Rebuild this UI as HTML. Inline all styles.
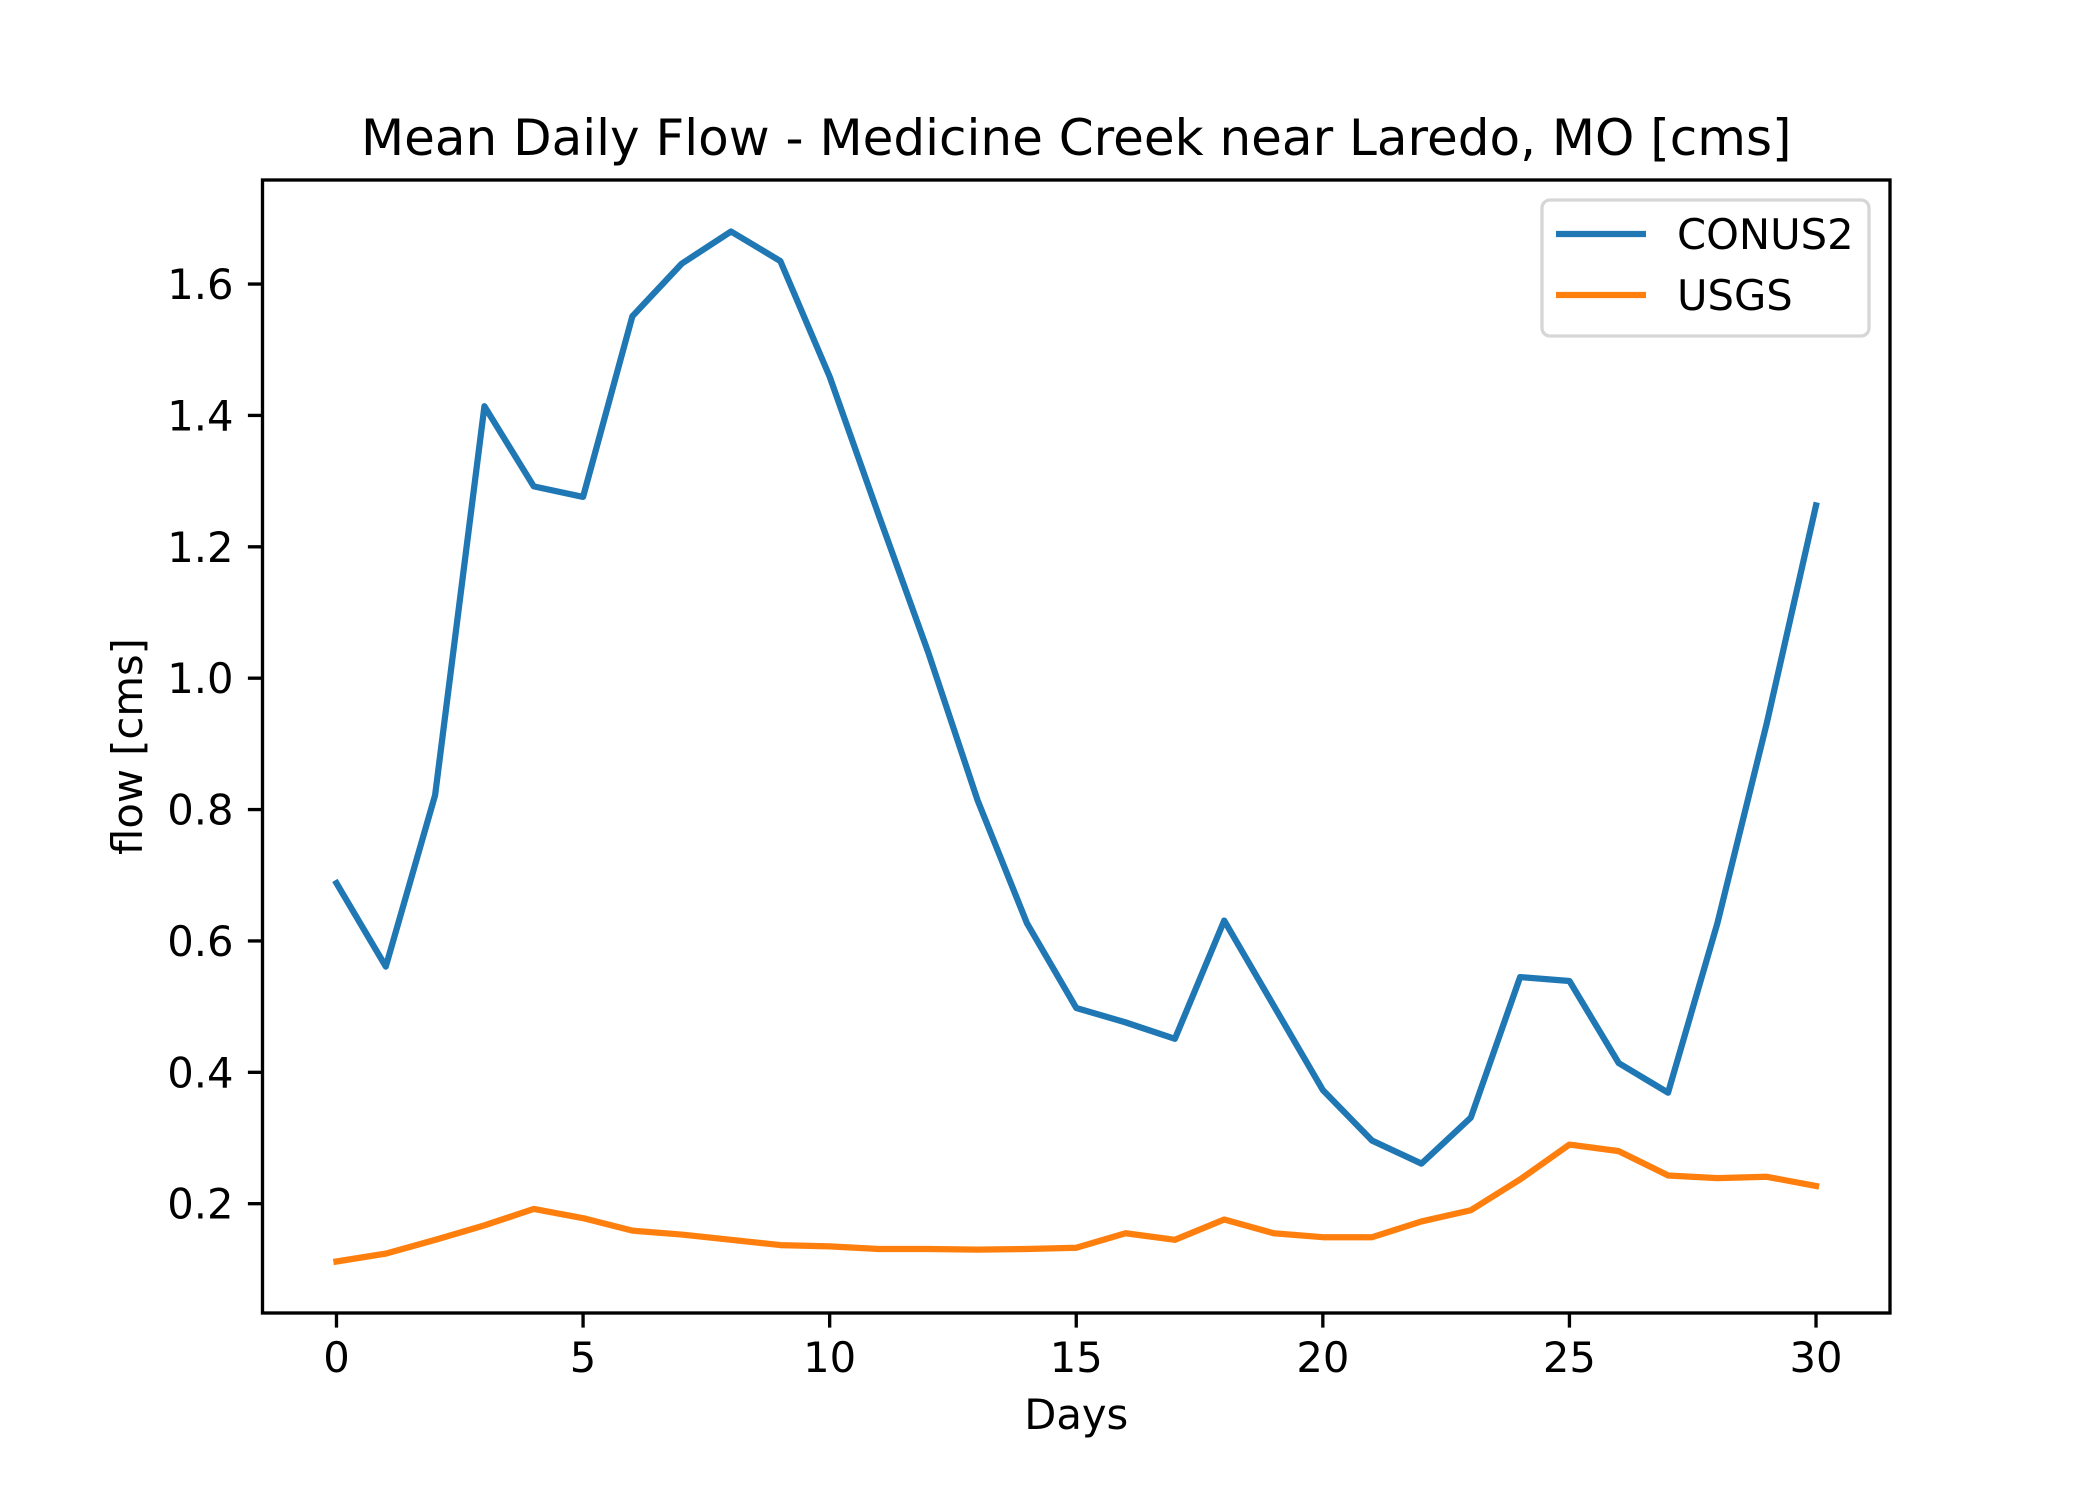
<!DOCTYPE html>
<html><head><meta charset="utf-8"><style>body{margin:0;background:#fff}svg{display:block}text{font-family:"DejaVu Sans","Liberation Sans",sans-serif;fill:#000}</style></head>
<body>
<svg id="chart" width="2100" height="1500" viewBox="0 0 2100 1500" xmlns="http://www.w3.org/2000/svg">
<rect width="2100" height="1500" fill="#fff"/>
<g id="plot"></g>
</svg>
<script>
const days = [0,1,2,3,4,5,6,7,8,9,10,11,12,13,14,15,16,17,18,19,20,21,22,23,24,25,26,27,28,29,30];
const conus2 = [0.688,0.561,0.822,1.414,1.292,1.276,1.551,1.631,1.680,1.635,1.459,1.247,1.039,0.814,0.627,0.498,0.476,0.451,0.631,0.502,0.373,0.296,0.261,0.331,0.545,0.539,0.414,0.369,0.627,0.931,1.263];
const usgs = [0.112,0.124,0.145,0.167,0.192,0.178,0.159,0.153,0.145,0.137,0.135,0.131,0.131,0.130,0.131,0.133,0.155,0.145,0.176,0.155,0.149,0.149,0.173,0.190,0.237,0.290,0.280,0.243,0.239,0.241,0.227];
const xTicks = [0,5,10,15,20,25,30];
const yTicks = [0.2,0.4,0.6,0.8,1.0,1.2,1.4,1.6];

const L=262.5,R=1890,T=180,B=1313;
const all=conus2.concat(usgs);
const dmin=Math.min(...all),dmax=Math.max(...all),m=(dmax-dmin)*0.05;
const y0=dmin-m,y1=dmax+m;
const x0=Math.min(...days)-(Math.max(...days)-Math.min(...days))*0.05;
const x1=Math.max(...days)+(Math.max(...days)-Math.min(...days))*0.05;
const sx=v=>L+(v-x0)/(x1-x0)*(R-L);
const sy=v=>B-(v-y0)/(y1-y0)*(B-T);
const NS='http://www.w3.org/2000/svg';
const g=document.getElementById('plot');
function mk(tag,attrs,parent){const e=document.createElementNS(NS,tag);for(const k in attrs)e.setAttribute(k,attrs[k]);(parent||g).appendChild(e);return e;}

function series(vals,color,name){
  const p=mk('polyline',{points:vals.map((v,i)=>sx(days[i])+','+sy(v)).join(' '),fill:'none',stroke:color,'stroke-width':6.25,'stroke-linejoin':'round','stroke-linecap':'square'});
  
  
}
series(conus2,'#1f77b4','conus2-line');
series(usgs,'#ff7f0e','usgs-line');

const frame=mk('rect',{x:L,y:T,width:R-L,height:B-T,fill:'none',stroke:'#000','stroke-width':3.33});



xTicks.forEach(t=>{
  const x=sx(t);
  const l=mk('line',{x1:x,x2:x,y1:B,y2:B+14.6,stroke:'#000','stroke-width':3.33});
  
  
  const tx=mk('text',{x:x,y:B+59,'font-size':41.7,'text-anchor':'middle'});
  tx.textContent=t;
  
  
});
yTicks.forEach(t=>{
  const y=sy(t);
  const l=mk('line',{x1:L-14.6,x2:L,y1:y,y2:y,stroke:'#000','stroke-width':3.33});
  
  
  const tx=mk('text',{x:L-29,y:y+15,'font-size':41.7,'text-anchor':'end'});
  tx.textContent=t.toFixed(1);
  
  
});

const title=mk('text',{x:(L+R)/2,y:155,'font-size':50,'text-anchor':'middle'});
title.textContent='Mean Daily Flow - Medicine Creek near Laredo, MO [cms]';


const xl=mk('text',{x:(L+R)/2,y:B+116,'font-size':41.7,'text-anchor':'middle'});
xl.textContent='Days';


const yl=mk('text',{x:0,y:0,'font-size':41.7,'text-anchor':'middle',transform:'translate(142,'+((T+B)/2)+') rotate(-90)'});
yl.textContent='flow [cms]';



const lg=mk('g',{});


mk('rect',{x:1542,y:200,width:327,height:136,rx:8,fill:'#fff','fill-opacity':0.8,stroke:'#d6d6d6','stroke-width':3.33},lg);
[['CONUS2','#1f77b4',234],['USGS','#ff7f0e',295]].forEach(([n,c,y])=>{
  const ln=mk('line',{x1:1556,x2:1646,y1:y,y2:y,stroke:c,'stroke-width':6.25},lg);
  
  
  const t=mk('text',{x:1677,y:y+15,'font-size':41.7},lg);
  t.textContent=n;
  
  
});
</script>
</body></html>
